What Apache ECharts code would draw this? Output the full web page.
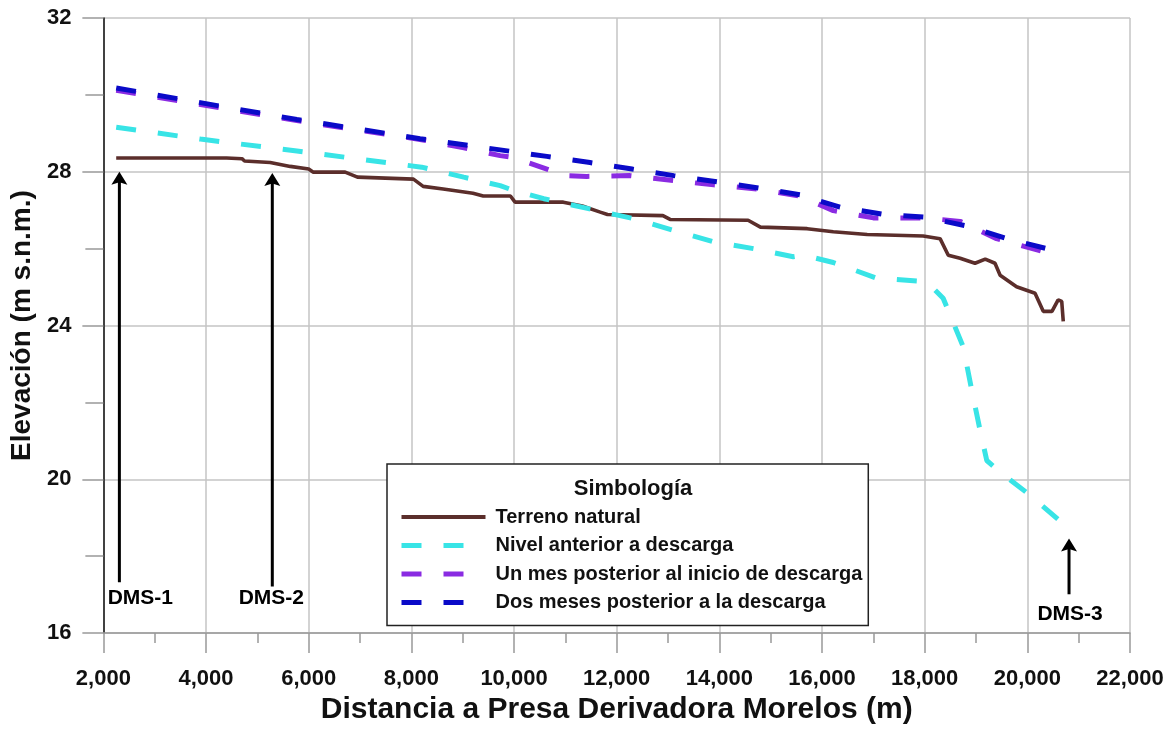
<!DOCTYPE html>
<html>
<head>
<meta charset="utf-8">
<script src="https://cdn.jsdelivr.net/npm/echarts@6/dist/echarts.min.js"></script>
<style>
html,body{margin:0;padding:0;background:#fff;}
#chart{width:1173px;height:730px;}
</style>
</head>
<body>
<div id="chart"></div>
<script>
// ---- data ----
const seriesNames = ['Terreno natural', 'Nivel anterior a descarga', 'Un mes posterior al inicio de descarga', 'Dos meses posterior a la descarga'];

const terrenoNatural = [
  [2250,28.36],[4400,28.36],[4700,28.34],[4750,28.28],[5250,28.24],[5640,28.14],[6000,28.07],[6090,27.99],
  [6710,27.99],[6950,27.86],[8040,27.81],[8230,27.62],[8620,27.55],[9200,27.44],[9400,27.37],[9930,27.37],
  [10020,27.21],[10960,27.21],[11330,27.11],[11680,26.95],[11820,26.89],[12900,26.86],[13040,26.76],[14560,26.74],
  [14800,26.56],[15710,26.52],[16220,26.44],[16880,26.37],[17970,26.33],[18300,26.26],[18460,25.83],[18690,25.75],
  [18980,25.62],[19180,25.73],[19370,25.62],[19470,25.31],[19790,25.01],[20150,24.84],[20310,24.37],[20480,24.37],
  [20600,24.67],[20670,24.63],[20700,24.11]
];

const nivelAnterior = [
  [2250,29.16],[3890,28.85],[5770,28.54],[8200,28.12],[9020,27.86],[9730,27.64],[10000,27.51],[10580,27.30],
  [11450,27.04],[12330,26.78],[13100,26.48],[13890,26.18],[14670,26.00],[15440,25.79],[15640,25.83],[16220,25.64],
  [17070,25.23],[17850,25.16],[18040,25.14],[18360,24.71],[18750,23.45],[18920,22.30],[19080,21.27],[19210,20.49],
  [19470,20.19],[20050,19.59],[20730,18.81]
];

const unMesPosterior = [
  [2250,30.12],[5770,29.33],[8170,28.84],[9000,28.63],[9730,28.42],[9990,28.37],[10640,28.07],[11000,27.90],
  [11420,27.88],[12260,27.90],[13110,27.77],[13890,27.66],[14760,27.55],[15570,27.37],[16220,26.99],[17000,26.80],
  [18000,26.80],[18690,26.71],[19400,26.26],[20510,25.85]
];

const dosMesesPosterior = [
  [2250,30.18],[5770,29.36],[8170,28.86],[9730,28.57],[10640,28.40],[11480,28.24],[12300,28.07],[13110,27.90],
  [13950,27.74],[14760,27.58],[15570,27.40],[16350,27.08],[17200,26.89],[18000,26.82],[18820,26.59],[19600,26.26],
  [20440,25.98],[20640,25.94]
];

// annotation arrows: name, x, base elevation, tip elevation, label x, label elevation
const markerNames = ['DMS-1', 'DMS-2', 'DMS-3'];
const markerX = [2312, 5291, 20812];
const markerBaseY = [17.32, 17.21, 17.01];
const markerTipY = [28.0, 27.97, 18.46];
const markerLabelX = [2720, 5272, 20832];
const markerLabelY = [16.92, 16.92, 16.50];

const xMin = 2000, xMax = 22000, xInterval = 2000;
const yMin = 16, yMax = 32, yInterval = 4;

// ---- chart ----
const FONT = '"Liberation Sans", Arial, Helvetica, sans-serif';
const chart = echarts.init(document.getElementById('chart'), null, {renderer: 'canvas'});

const colors = ['#5b2e2b', '#38e4e6', '#8a2be2', '#0a0ac8'];
const widths = [4, 5, 5, 5];
const dashes = ['solid', [20, 22], [20, 22], [20, 22]];

const markerData = markerNames.map((n, i) => [markerX[i], markerBaseY[i], markerTipY[i], markerLabelX[i], markerLabelY[i]]);
const lineData = [terrenoNatural, nivelAnterior, unMesPosterior, dosMesesPosterior];

const lineSeries = seriesNames.map((name, i) => ({
  name: name, type: 'line', data: lineData[i], symbol: 'none', showSymbol: false, z: 3 + i,
  lineStyle: {color: colors[i], width: i === 0 ? 3.6 : 5, type: dashes[i]},
  itemStyle: {color: colors[i]}
}));

const option = {
  backgroundColor: '#fff',
  animation: false,
  grid: {left: 103, right: 43, top: 18, bottom: 93, containLabel: false},
  xAxis: {
    type: 'value', min: xMin, max: xMax, interval: xInterval,
    name: 'Distancia a Presa Derivadora Morelos (m)',
    nameLocation: 'middle', nameGap: 59,
    nameTextStyle: {fontFamily: FONT, fontWeight: 'bold', fontSize: 30, color: '#111'},
    axisLine: {show: true, onZero: false, lineStyle: {color: '#999', width: 1.5}},
    axisTick: {show: true, inside: false, length: 20, lineStyle: {color: '#999', width: 1.5}},
    minorTick: {show: true, splitNumber: 2, length: 10, lineStyle: {color: '#999', width: 1.5}},
    axisLabel: {
      margin: 35, fontFamily: FONT, fontWeight: 'bold', fontSize: 22, color: '#111',
      formatter: v => v.toLocaleString('en-US')
    },
    splitLine: {show: true, lineStyle: {color: '#c4c4c4', width: 1.5}}
  },
  yAxis: {
    type: 'value', min: yMin, max: yMax, interval: yInterval,
    name: 'Elevación (m s.n.m.)',
    nameLocation: 'middle', nameGap: 60, nameRotate: 90,
    nameTextStyle: {fontFamily: FONT, fontWeight: 'bold', fontSize: 28, color: '#111'},
    axisLine: {show: true, onZero: false, lineStyle: {color: '#111', width: 1.5}},
    axisTick: {show: true, inside: false, length: 21, lineStyle: {color: '#999', width: 1.5}},
    minorTick: {show: true, splitNumber: 2, length: 18, lineStyle: {color: '#999', width: 1.5}},
    axisLabel: {margin: 32, fontFamily: FONT, fontWeight: 'bold', fontSize: 22, color: '#111'},
    splitLine: {show: true, lineStyle: {color: '#c4c4c4', width: 1.5}}
  },
  legend: {
    data: seriesNames.map((name, i) => ({
      name: name,
      itemStyle: {opacity: 0, color: 'transparent', borderWidth: 0},
      lineStyle: {color: colors[i], width: widths[i], type: dashes[i], opacity: 1}
    })),
    orient: 'vertical',
    left: 387, top: 464,
    padding: [42, 6, 12, 12],
    itemWidth: 84, itemHeight: 14, itemGap: 6.5,
    selectedMode: false,
    borderColor: '#222', borderWidth: 1.5,
    backgroundColor: '#fff',
    textStyle: {fontFamily: FONT, fontWeight: 'bold', fontSize: 20, color: '#111', lineHeight: 22, padding: [0, 0, 0, 5]}
  },
  graphic: [{
    type: 'text', x: 633, y: 489, z: 100,
    style: {text: 'Simbología', fontFamily: FONT, fontWeight: 'bold', fontSize: 22, fill: '#111', align: 'center', verticalAlign: 'middle'}
  }],
  series: lineSeries.concat([
    {
      name: 'markers', type: 'custom', data: markerData, clip: false, silent: true, z: 7,
      encode: {x: [0, 3], y: [1, 2, 4]},
      renderItem: function (params, api) {
        const i = params.dataIndex;
        const p0 = api.coord([api.value(0), api.value(1)]);
        const p1 = api.coord([api.value(0), api.value(2)]);
        const pl = api.coord([api.value(3), api.value(4)]);
        const headH = 13, headW = 16;
        return {
          type: 'group',
          children: [
            {type: 'line', shape: {x1: p0[0], y1: p0[1], x2: p1[0], y2: p1[1] + headH - 3},
             style: {stroke: '#000', lineWidth: 3}},
            {type: 'polygon', shape: {points: [[p1[0], p1[1]], [p1[0] + headW / 2, p1[1] + headH], [p1[0], p1[1] + headH - 2.5], [p1[0] - headW / 2, p1[1] + headH]]},
             style: {fill: '#000'}},
            {type: 'text', x: pl[0], y: pl[1],
             style: {text: markerNames[i], fontFamily: FONT, fontWeight: 'bold', fontSize: 21, fill: '#000', align: 'center', verticalAlign: 'middle'}}
          ]
        };
      }
    }
  ])
};
chart.setOption(option);
</script>
</body>
</html>
